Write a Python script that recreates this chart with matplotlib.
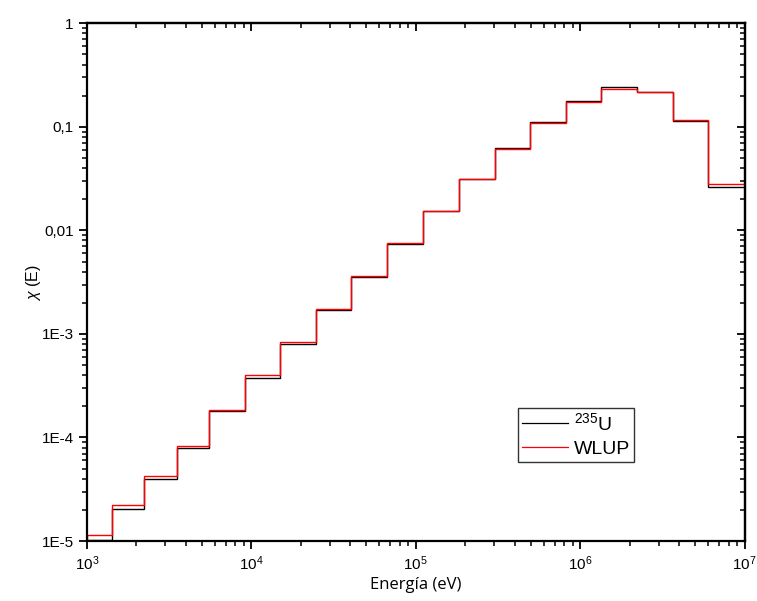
import numpy as np
import matplotlib
matplotlib.use("Agg")
import matplotlib.pyplot as plt
from matplotlib.ticker import LogLocator, FixedLocator, FixedFormatter, NullFormatter

# Bordas dos grupos de energia (eV)
bordas = [1.0e3, 1.425e3, 2.23e3, 3.51e3, 5.52e3, 9.11e3, 1.50e4, 2.48e4,
          4.06e4, 6.70e4, 1.105e5, 1.83e5, 3.03e5, 4.96e5, 8.19e5,
          1.347e6, 2.22e6, 3.66e6, 6.03e6, 1.0e7]

# Espectro de fissao chi(E) por grupo
chi_u235 = [1.03e-5, 2.02e-5, 4.0e-5, 7.87e-5, 1.80e-4, 3.78e-4, 8.06e-4,
            1.69e-3, 3.55e-3, 7.46e-3, 1.53e-2, 3.16e-2, 6.27e-2, 0.1125,
            0.178, 0.240, 0.218, 0.1135, 0.0261]
chi_wlup = [1.135e-5, 2.21e-5, 4.25e-5, 8.28e-5, 1.84e-4, 4.04e-4, 8.31e-4,
            1.74e-3, 3.61e-3, 7.62e-3, 1.55e-2, 3.16e-2, 6.13e-2, 0.110,
            0.1744, 0.234, 0.218, 0.1177, 0.0279]

y_ticks = [1e-5, 1e-4, 1e-3, 1e-2, 1e-1, 1]
y_labels = ["1E-5", "1E-4", "1E-3", "0,01", "0,1", "1"]

fonte = ["Liberation Sans", "DejaVu Sans"]
plt.rcParams["font.family"] = fonte
plt.rcParams["mathtext.fontset"] = "custom"
plt.rcParams["mathtext.rm"] = "Liberation Sans"
plt.rcParams["mathtext.it"] = "Liberation Sans:italic"

fig = plt.figure(figsize=(7.57, 6.01), dpi=100)
ax = fig.add_axes([0.1149, 0.0998, 0.8686, 0.8614])

ax.stairs(chi_u235, bordas, color="black", lw=1.0, label=r"$^{235}$U")
ax.stairs(chi_wlup, bordas, color="red", lw=1.0, label="WLUP")

ax.set_xscale("log")
ax.set_yscale("log")
ax.set_xlim(1e3, 1e7)
ax.set_ylim(1e-5, 1)

ax.yaxis.set_major_locator(FixedLocator(y_ticks))
ax.yaxis.set_major_formatter(FixedFormatter(y_labels))
ax.yaxis.set_minor_locator(LogLocator(base=10, subs=np.arange(2, 10), numticks=20))
ax.yaxis.set_minor_formatter(NullFormatter())
ax.xaxis.set_minor_locator(LogLocator(base=10, subs=np.arange(2, 10), numticks=20))
ax.xaxis.set_minor_formatter(NullFormatter())

for lado in ax.spines.values():
    lado.set_linewidth(1.6)

# eixos inferior/esquerdo com marcas para fora, superior/direito para dentro
ax.tick_params(which="major", direction="out", length=6, width=1.3, labelsize=11)
ax.tick_params(which="minor", direction="out", length=3.5, width=1.1)
sec_x = ax.secondary_xaxis("top")
sec_x.xaxis.set_minor_locator(LogLocator(base=10, subs=np.arange(2, 10), numticks=20))
sec_x.tick_params(which="major", direction="in", length=6, width=1.3, labeltop=False)
sec_x.tick_params(which="minor", direction="in", length=3.5, width=1.1)
sec_x.spines["top"].set_linewidth(1.6)
sec_y = ax.secondary_yaxis("right")
sec_y.yaxis.set_major_locator(FixedLocator(y_ticks))
sec_y.yaxis.set_minor_locator(LogLocator(base=10, subs=np.arange(2, 10), numticks=20))
sec_y.yaxis.set_minor_formatter(NullFormatter())
sec_y.tick_params(which="major", direction="in", length=6, width=1.3, labelright=False)
sec_y.tick_params(which="minor", direction="in", length=3.5, width=1.1)
sec_y.spines["right"].set_linewidth(1.6)

ax.set_xlabel("Energía (eV)", family=["Open Sans", "DejaVu Sans"], fontsize=12, labelpad=3)
ax.set_ylabel(r"$\chi$ (E)", fontsize=11.5, labelpad=-1)

leg = ax.legend(loc="upper left", bbox_to_anchor=(0.656, 0.256), fontsize=14,
                frameon=True, fancybox=False, edgecolor="black",
                handlelength=2.35, handletextpad=0.3, borderpad=0.2,
                labelspacing=0.3, borderaxespad=0)
leg.get_frame().set_linewidth(1.0)
for linha in leg.get_lines():
    linha.set_linewidth(0.9)

fig.savefig("out.png", dpi=100)
